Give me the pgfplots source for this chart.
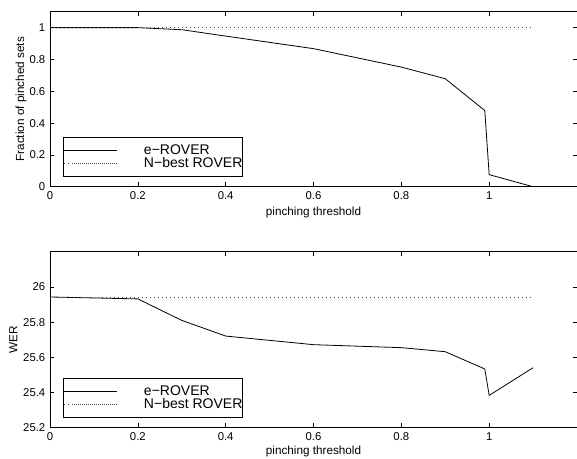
\documentclass[border=0pt]{standalone}
\usepackage{fontspec}
\setmainfont{Liberation Sans}
\usepackage{pgfplots}
\pgfplotsset{compat=1.18}
\begin{document}
\begin{tikzpicture}
\pgfplotsset{
  common/.style={
    scale only axis, width=395.25pt,
    xmin=0, xmax=1.2, xtick={0,0.2,0.4,0.6,0.8,1},
    tick align=inside, major tick length=3.2pt,
    axis line style={line width=0.6pt},
    every tick/.style={line width=0.5pt, black},
    tick label style={font=\fontsize{8.5}{10}\selectfont},
    /pgf/number format/assume math mode=true,
    yticklabel style={/pgf/number format/fixed, /pgf/number format/precision=1},
    label style={font=\fontsize{8.8}{10}\selectfont},
    xlabel={pinching threshold},
    legend cell align=left,
    legend style={at={(axis description cs:0,0)}, anchor=south west, xshift=10pt, yshift=7.5pt,
      draw=black, line width=0.75pt, inner xsep=0pt, inner ysep=4.6pt,
      font=\fontsize{10.5}{10}\selectfont,
      nodes={inner sep=0pt, text height=7.5pt, text depth=2.25pt},
      /tikz/every odd column/.append style={column sep=20pt}},
    legend image code/.code={\path (0pt,0pt) -- (39.5pt,0pt); \draw[##1] (7.5pt,0pt) -- (39.5pt,0pt);},
  },
  eline/.style={black, line width=0.6pt},
  nline/.style={black!70, line width=0.5pt, dash pattern=on 0.6pt off 2.4pt},
}
\begin{axis}[common, name=top, at={(0,0)}, anchor=south west, height=131.25pt,
  ymin=0, ymax=1.1, ytick={0,0.2,0.4,0.6,0.8,1},
  ylabel={Fraction of pinched sets},
  ylabel style={at={(axis description cs:-0.0547,0.5)}, anchor=center},
  xlabel style={at={(axis description cs:0.5,-0.145)}, anchor=center}]
\addplot[eline] coordinates {(0,1) (0.2,1) (0.3,0.987) (0.4,0.947) (0.6,0.868) (0.8,0.752) (0.9,0.679) (0.99,0.479) (1.0,0.076) (1.1,0)};
\addplot[nline] coordinates {(0,1) (1.1,1)};
\legend{e−ROVER, N−best ROVER}
\end{axis}
\begin{axis}[common, name=bot, at={(0,-48.75pt)}, anchor=north west, height=132pt,
  ymin=25.2, ymax=26.2, ytick={25.2,25.4,25.6,25.8,26},
  ylabel={WER},
  ylabel style={at={(axis description cs:-0.0696,0.5)}, anchor=center},
  xlabel style={at={(axis description cs:0.5,-0.135)}, anchor=center}]
\addplot[eline] coordinates {(0,25.943) (0.2,25.932) (0.3,25.81) (0.4,25.721) (0.6,25.672) (0.8,25.655) (0.9,25.632) (0.99,25.534) (1.0,25.384) (1.1,25.541)};
\addplot[nline] coordinates {(0,25.943) (1.1,25.943)};
\legend{e−ROVER, N−best ROVER}
\end{axis}
\pgfresetboundingbox
\useasboundingbox (-37.5pt,-203.45pt) rectangle (395.25pt,140.05pt);
\end{tikzpicture}
\end{document}
